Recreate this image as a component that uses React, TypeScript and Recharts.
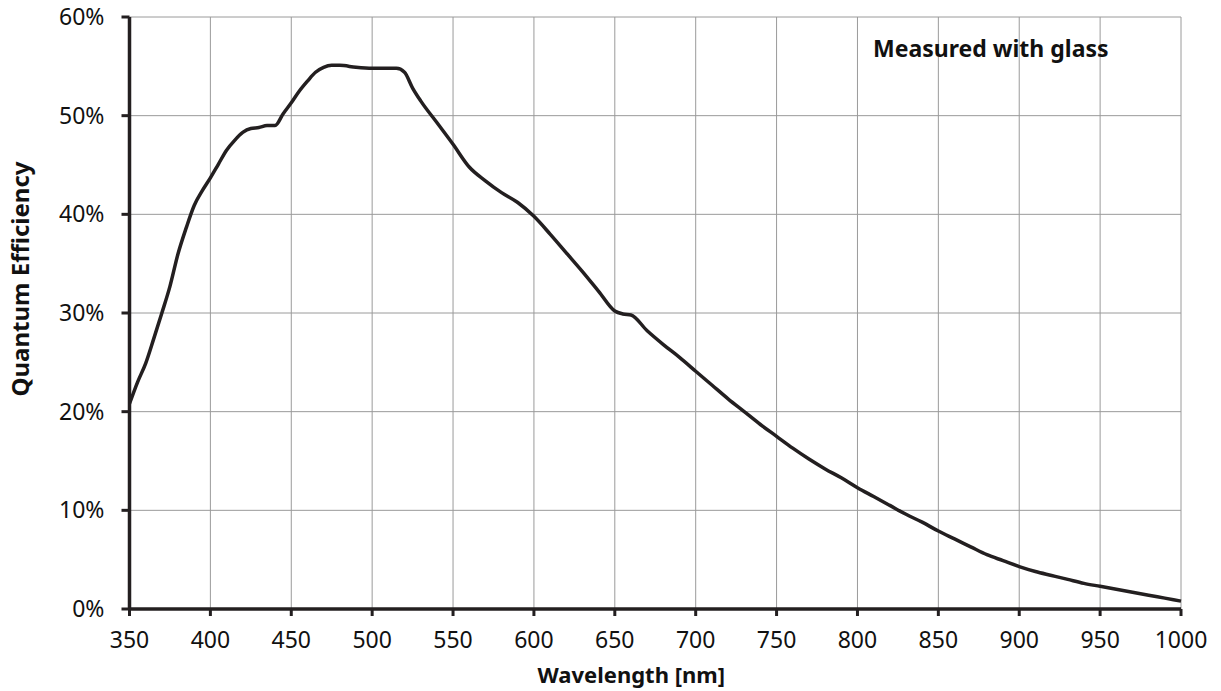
import React from "react";
import {
  LineChart,
  Line,
  XAxis,
  YAxis,
  CartesianGrid,
  Label,
} from "recharts";

// wavelength in nm
const wavelengths = [
  350, 355, 360, 365, 370, 375, 380, 385, 390, 395, 400, 405, 410, 415, 420,
  425, 430, 435, 440, 445, 450, 455, 460, 465, 470, 475, 480, 490, 500, 510,
  515, 520, 525, 530, 540, 550, 560, 570, 580, 590, 600, 610, 620, 630, 640,
  650, 655, 660, 670, 680, 690, 700, 710, 720, 730, 740, 750, 760, 770, 780,
  790, 800, 810, 820, 830, 840, 850, 860, 870, 880, 890, 900, 910, 920, 930,
  940, 950, 960, 970, 980, 990, 1000,
];

// quantum efficiency in %
const qeValues = [
  20.8, 23.0, 24.9, 27.4, 30.0, 32.7, 36.0, 38.6, 40.9, 42.4, 43.7, 45.1, 46.5,
  47.5, 48.3, 48.7, 48.8, 49.0, 49.0, 50.2, 51.3, 52.5, 53.5, 54.4, 54.9, 55.1,
  55.1, 54.9, 54.8, 54.8, 54.8, 54.4, 52.8, 51.5, 49.3, 47.1, 44.8, 43.4, 42.2,
  41.2, 39.8, 38.0, 36.1, 34.2, 32.2, 30.2, 29.9, 29.8, 28.2, 26.8, 25.5, 24.1,
  22.7, 21.3, 20.0, 18.7, 17.5, 16.3, 15.2, 14.2, 13.3, 12.3, 11.4, 10.5, 9.6,
  8.8, 7.9, 7.1, 6.3, 5.5, 4.9, 4.3, 3.8, 3.4, 3.0, 2.6, 2.3, 2.0, 1.7, 1.4,
  1.1, 0.8,
];

const xTicks = [350, 400, 450, 500, 550, 600, 650, 700, 750, 800, 850, 900, 950, 1000];
const yTicks = [0, 10, 20, 30, 40, 50, 60];

const data = wavelengths.map((w, i) => ({ wl: w, qe: qeValues[i] }));

const INK = "#231f20";
const FONT = "'Noto Sans', 'Open Sans', sans-serif";

export default function App() {
  return (
    <div style={{ position: "relative", width: 1221, height: 691, background: "#fff", fontFamily: FONT }}>
      <style>{`body{margin:0}`}</style>
      <LineChart
        width={1221}
        height={691}
        data={data}
        margin={{ top: 17, right: 40, bottom: 0, left: 0 }}
      >
        <CartesianGrid stroke="#9a9a9a" strokeWidth={1} />
        <XAxis
          dataKey="wl"
          type="number"
          domain={[350, 1000]}
          ticks={xTicks}
          height={82}
          tickSize={7}
          tickMargin={16}
          axisLine={{ stroke: INK, strokeWidth: 3.5 }}
          tickLine={{ stroke: INK, strokeWidth: 3 }}
          tick={{ fill: "#111", fontSize: 23, fontFamily: FONT }}
          interval={0}
        >
          <Label
            value="Wavelength [nm]"
            position="insideBottom"
            offset={8}
            dx={-24}
            style={{ fill: "#111", fontSize: 22, fontWeight: 700, fontFamily: FONT }}
          />
        </XAxis>
        <YAxis
          type="number"
          domain={[0, 60]}
          ticks={yTicks}
          width={129.5}
          tickSize={8}
          tickMargin={17}
          tickFormatter={(v: number) => `${v}%`}
          axisLine={{ stroke: INK, strokeWidth: 3.5 }}
          tickLine={{ stroke: INK, strokeWidth: 3 }}
          tick={{ fill: "#111", fontSize: 23, fontFamily: FONT }}
          interval={0}
        >
          <Label
            content={() => (
              <text
                x={29}
                y={279}
                transform="rotate(-90 29 279)"
                textAnchor="middle"
                style={{ fill: "#111", fontSize: 24, fontWeight: 700, fontFamily: FONT }}
              >
                Quantum Efficiency
              </text>
            )}
          />
        </YAxis>
        <Line
          type="monotone"
          dataKey="qe"
          stroke={INK}
          strokeWidth={3.5}
          dot={false}
          activeDot={false}
          isAnimationActive={false}
        />
      </LineChart>
      <div
        style={{
          position: "absolute",
          left: 873,
          top: 33,
          fontSize: 23,
          fontWeight: 700,
          color: "#111",
          whiteSpace: "nowrap",
          lineHeight: "30px",
        }}
      >
        Measured with glass
      </div>
    </div>
  );
}
